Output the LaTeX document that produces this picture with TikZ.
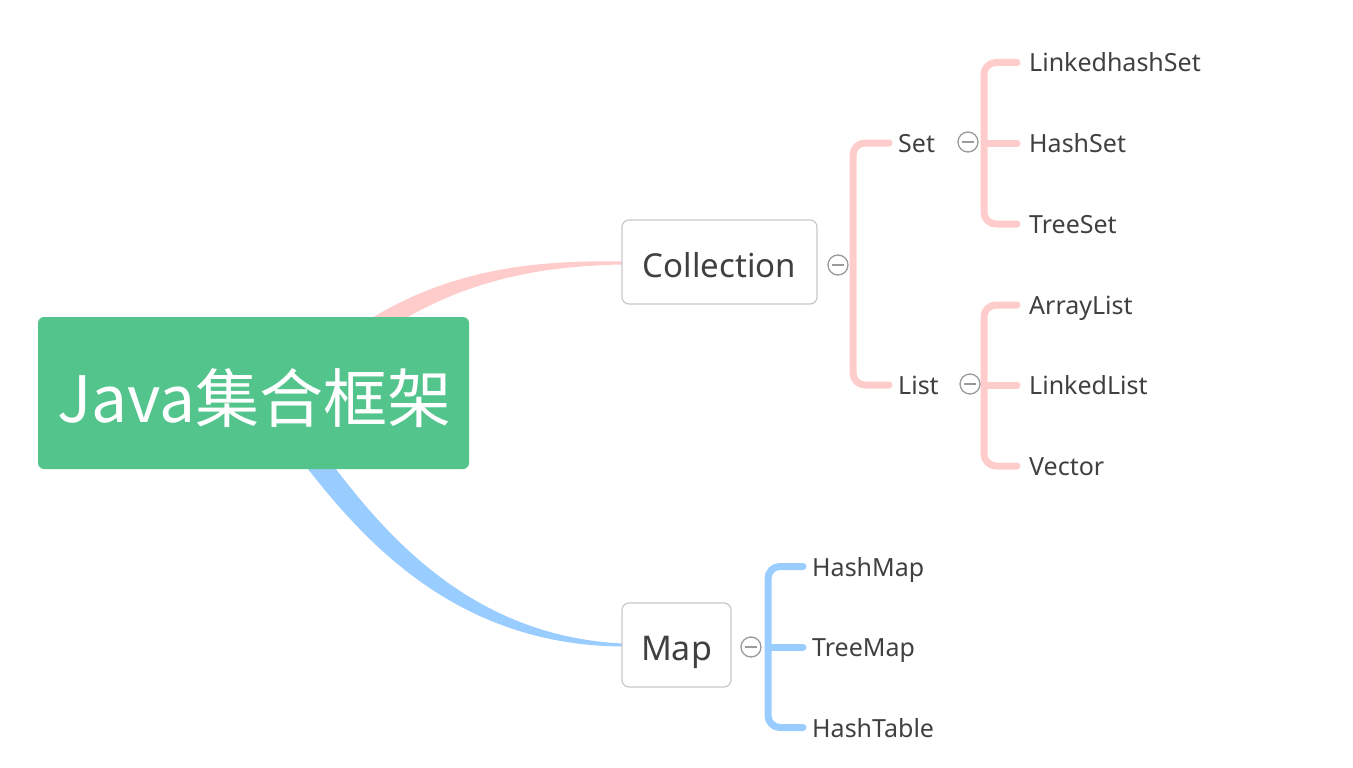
\documentclass[tikz,border=0pt]{standalone}
\usepackage{fontspec}
\setmainfont{Noto Sans}
\newfontfamily\cjk{Noto Sans CJK SC}
\definecolor{pk}{HTML}{FFCCCC}
\definecolor{bl}{HTML}{99CCFF}
\definecolor{gr}{HTML}{52C48C}
\definecolor{tx}{HTML}{404040}
\definecolor{bd}{HTML}{C8C8C8}
\definecolor{ic}{HTML}{9A9A9A}
\tikzset{
  leaf/.style={anchor=base west, inner sep=0pt, text=tx, font=\fontsize{25}{28}\selectfont},
  topicbox/.style={draw=bd, line width=1.2pt, rounded corners=7pt, fill=white},
  pkline/.style={draw=pk, line width=7pt, line cap=round, rounded corners=12pt},
  blline/.style={draw=bl, line width=7pt, line cap=round, rounded corners=12pt},
  collapse/.style={circle, draw=ic, line width=1.3pt, fill=white, minimum size=20pt, inner sep=0pt,
    path picture={\draw[ic, line width=1.3pt] ([xshift=-6pt]path picture bounding box.center) -- ([xshift=6pt]path picture bounding box.center);}},
}
\begin{document}
\begin{tikzpicture}[x=1pt,y=-1pt]
\useasboundingbox (0,0) rectangle (1353,768);
% tapered main connectors
\fill[pk] (324,352) .. controls (420,273) and (519,259.5) .. (622,261.5)
  -- (622,264.5) .. controls (521,266.5) and (430,287) .. (336,368) -- cycle;
\fill[bl] (309,433) .. controls (368,513) and (455,635) .. (622,643.5)
  -- (622,646.5) .. controls (445,645) and (352,527) .. (291,447) -- cycle;
% central topic
\node[fill=gr, rounded corners=6pt, minimum width=431pt, minimum height=152pt, inner sep=0pt] (root) at (253.5,393) {};
\node[anchor=base, inner sep=0pt, text=white, font=\cjk\fontsize{64}{70}\selectfont] (roott) at (254.5,422) {Java集合框架};
% main topics
\draw[topicbox] (622,220) rectangle (817,304);
\node[inner sep=0pt, minimum width=195pt, minimum height=84pt] (coll) at (719.5,262) {};
\node[anchor=base, inner sep=0pt, text=tx, font=\fontsize{33}{36}\selectfont] (collt) at (719.5,277) {Collection};
\draw[topicbox] (622,603) rectangle (731,687);
\node[inner sep=0pt, minimum width=109pt, minimum height=84pt] (map) at (676.5,645) {};
\node[anchor=base, inner sep=0pt, text=tx, font=\fontsize{34}{37}\selectfont] (mapt) at (676.5,660) {Map};
% subtopics
\node[leaf] (set) at (898,152.5) {Set};
\node[leaf] (list) at (898,394.5) {List};
\node[leaf] (lhs) at (1029,72) {LinkedhashSet};
\node[leaf] (hs) at (1029,152.5) {HashSet};
\node[leaf] (ts) at (1029,233.5) {TreeSet};
\node[leaf] (al) at (1029,314.5) {ArrayList};
\node[leaf] (ll) at (1029,394.5) {LinkedList};
\node[leaf] (vc) at (1029,475.5) {Vector};
\node[leaf] (hm) at (812,576) {HashMap};
\node[leaf] (tm) at (812,656.5) {TreeMap};
\node[leaf] (ht) at (812,737) {HashTable};
% brackets
\coordinate (cv) at (853,265);
\draw[pkline] ([xshift=-9pt,yshift=9.5pt]set.base west) -| (cv) |- ([xshift=-9pt,yshift=9.5pt]list.base west);
\coordinate (sv) at (984,143);
\draw[pkline] ([xshift=-12pt,yshift=9.5pt]lhs.base west) -| (sv) |- ([xshift=-12pt,yshift=9.5pt]ts.base west);
\draw[pkline] (sv) -- ([xshift=-12pt,yshift=9.5pt]hs.base west);
\coordinate (lv) at (984,385);
\draw[pkline] ([xshift=-12pt,yshift=9.5pt]al.base west) -| (lv) |- ([xshift=-12pt,yshift=9.5pt]vc.base west);
\draw[pkline] (lv) -- ([xshift=-12pt,yshift=9.5pt]ll.base west);
\coordinate (mv) at (768,647);
\draw[blline] ([xshift=-9pt,yshift=9.5pt]hm.base west) -| (mv) |- ([xshift=-9pt,yshift=9.5pt]ht.base west);
\draw[blline] (mv) -- ([xshift=-9pt,yshift=9.5pt]tm.base west);
% collapse icons
\node[collapse] (c1) at (838,265) {};
\node[collapse] (c2) at (968,142) {};
\node[collapse] (c3) at (970,384) {};
\node[collapse] (c4) at (751,647) {};
\end{tikzpicture}
\end{document}
